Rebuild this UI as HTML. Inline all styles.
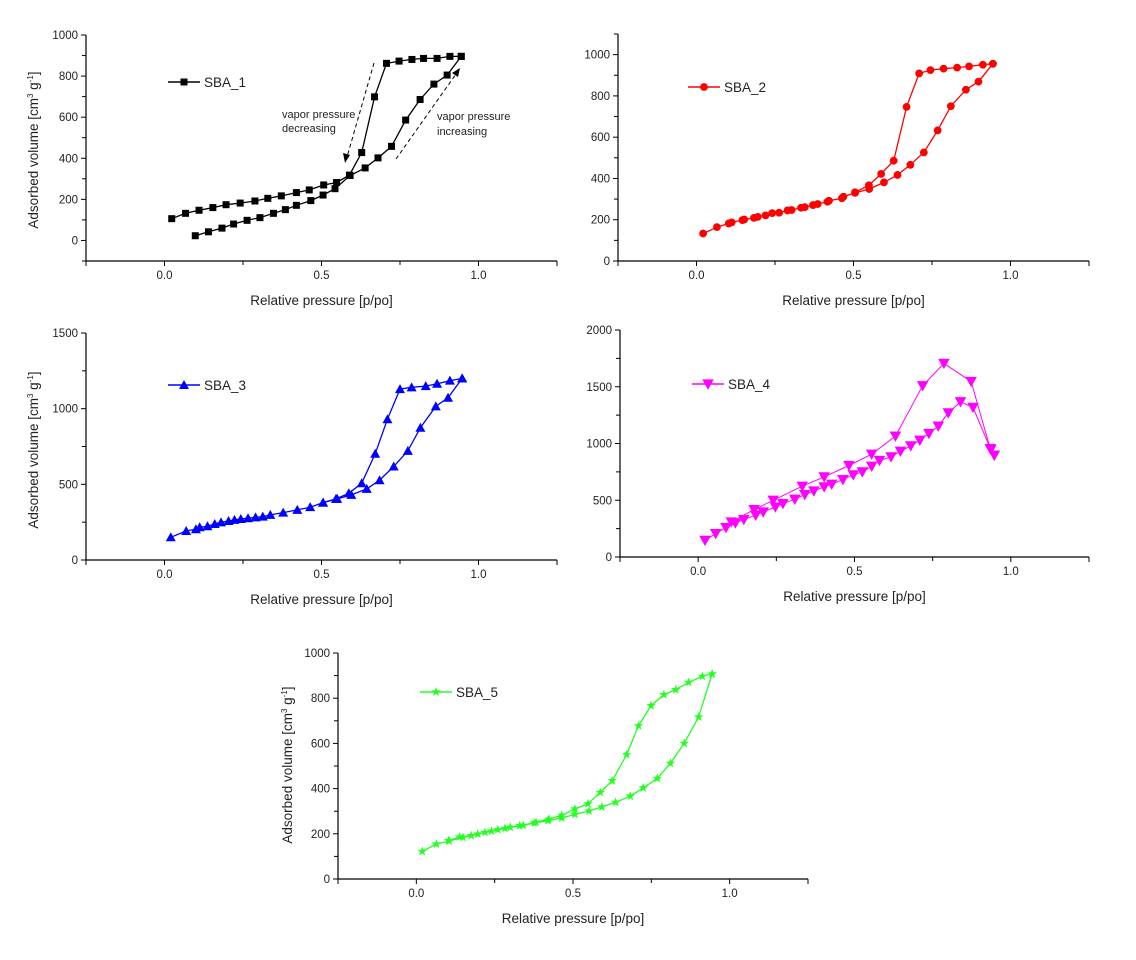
<!DOCTYPE html>
<html><head><meta charset="utf-8"><style>
html,body{margin:0;padding:0;background:#fff;}
svg{display:block;font-family:"Liberation Sans",sans-serif;}
</style></head><body>
<svg id="fig" width="1136" height="960" viewBox="0 0 1136 960" xmlns="http://www.w3.org/2000/svg">
<rect width="1136" height="960" fill="#fff"/>
</svg>
<script>
// ---- data ----
const sba1AdsX=[0.098,0.14,0.183,0.22,0.263,0.304,0.347,0.385,0.42,0.466,0.505,0.543,0.591,0.639,0.68,0.723,0.768,0.814,0.858,0.9,0.945];
const sba1AdsY=[23,42,60,80,98,111,132,150,171,194,221,252,316,353,402,458,586,686,761,805,896];
const sba1DesX=[0.023,0.067,0.11,0.154,0.196,0.241,0.288,0.329,0.372,0.42,0.461,0.507,0.548,0.589,0.628,0.669,0.707,0.747,0.788,0.825,0.868,0.909,0.945];
const sba1DesY=[106,132,147,160,174,182,192,205,217,233,246,270,282,318,428,699,862,873,881,886,886,896,896];

const sba2AdsX=[0.021,0.065,0.103,0.112,0.146,0.152,0.183,0.195,0.22,0.241,0.263,0.29,0.303,0.333,0.345,0.371,0.386,0.417,0.422,0.463,0.468,0.505,0.55,0.597,0.64,0.681,0.724,0.768,0.81,0.858,0.898,0.944];
const sba2AdsY=[133,164,182,187,198,201,209,214,221,232,234,245,247,258,261,271,276,287,292,304,312,330,349,381,417,466,526,633,750,830,869,956];
const sba2DesX=[0.944,0.912,0.868,0.83,0.787,0.745,0.709,0.669,0.628,0.588,0.549,0.505];
const sba2DesY=[956,951,943,937,932,925,909,747,486,422,367,333];

const sba3AdsX=[0.02,0.069,0.1,0.112,0.137,0.16,0.18,0.204,0.223,0.243,0.266,0.29,0.313,0.337,0.378,0.423,0.464,0.505,0.55,0.595,0.644,0.685,0.73,0.775,0.815,0.864,0.903,0.948];
const sba3AdsY=[150,192,203,216,223,238,249,258,265,271,276,282,287,298,313,331,349,379,404,430,470,527,618,721,874,1015,1072,1200];
const sba3DesX=[0.948,0.909,0.868,0.832,0.787,0.75,0.71,0.671,0.628,0.587,0.546,0.505];
const sba3DesY=[1200,1185,1165,1149,1141,1129,930,702,507,441,404,379];

const sba4AdsX=[0.022,0.056,0.089,0.119,0.146,0.184,0.208,0.247,0.271,0.309,0.341,0.37,0.403,0.427,0.463,0.496,0.525,0.555,0.58,0.617,0.647,0.68,0.709,0.738,0.768,0.8,0.839,0.879,0.936,0.947];
const sba4AdsY=[147,206,259,300,330,368,397,441,470,509,550,582,618,641,682,724,750,800,850,882,932,979,1029,1088,1153,1270,1368,1318,947,897];
const sba4DesX=[0.947,0.934,0.873,0.786,0.718,0.631,0.555,0.482,0.403,0.333,0.24,0.179,0.106];
const sba4DesY=[897,956,1547,1706,1509,1065,906,806,706,624,500,418,309];

const sba5AdsX=[0.019,0.064,0.105,0.149,0.196,0.24,0.283,0.33,0.376,0.42,0.464,0.506,0.551,0.592,0.636,0.683,0.724,0.769,0.811,0.855,0.901,0.944];
const sba5AdsY=[122,155,168,184,199,212,224,236,248,258,270,286,301,319,339,367,403,445,512,600,717,907];
const sba5DesX=[0.944,0.913,0.869,0.828,0.79,0.749,0.709,0.671,0.625,0.587,0.548,0.506,0.464,0.423,0.382,0.341,0.3,0.26,0.219,0.175,0.138,0.103];
const sba5DesY=[907,897,870,838,816,767,678,550,435,383,333,310,282,265,251,237,229,218,206,192,186,170];

const xTickLabels=["0.0","0.5","1.0"];
const xTickValues=[0,0.5,1.0];

// ---- drawing ----
const NS="http://www.w3.org/2000/svg";
const svg=document.getElementById('fig');
function mk(tag,attrs,parent){const e=document.createElementNS(NS,tag);for(const k in attrs)e.setAttribute(k,attrs[k]);(parent||svg).appendChild(e);return e;}

function marker(g,shape,cx,cy,color,s){
  s=s||1;let e;
  if(shape==='square'){const h=3.5*s;e=mk('rect',{x:cx-h,y:cy-h,width:2*h,height:2*h,fill:color},g);}
  else if(shape==='circle'){e=mk('circle',{cx:cx,cy:cy,r:3.9*s,fill:color},g);}
  else if(shape==='up'){const a=5*s;e=mk('polygon',{points:`${cx},${cy-a} ${cx-a},${cy+a*0.8} ${cx+a},${cy+a*0.8}`,fill:color},g);}
  else if(shape==='down'){const a=5*s;e=mk('polygon',{points:`${cx},${cy+a} ${cx-a},${cy-a*0.8} ${cx+a},${cy-a*0.8}`,fill:color},g);}
  else {let p=[];for(let i=0;i<10;i++){const r=(i%2?2:5)*s;const a=-Math.PI/2+i*Math.PI/5;p.push((cx+r*Math.cos(a)).toFixed(1)+','+(cy+r*Math.sin(a)).toFixed(1));}
    e=mk('polygon',{points:p.join(' '),fill:color},g);}
  return e;
}

function panel(o){
  const g=mk('g',{});
  
  
  const sx=v=>o.x0+(v-(-0.25))/1.5*(o.x1-o.x0);
  const sy=v=>o.yb-(v-o.ymin)/(o.ymax-o.ymin)*(o.yb-o.yt);
  const ax=mk('path',{d:`M${o.x0},${o.yt} V${o.yb} H${o.x1}`,stroke:'#000','stroke-width':1.2,fill:'none'},g);
  
  
  for(let v=-0.25;v<=1.2501;v+=0.25){
    const major=xTickValues.some(t=>Math.abs(t-v)<1e-6)||Math.abs(v+0.25)<1e-6||Math.abs(v-1.25)<1e-6;
    mk('line',{x1:sx(v),x2:sx(v),y1:o.yb,y2:o.yb+(major?5:4),stroke:'#000','stroke-width':1},g);
  }
  xTickValues.forEach((v,i)=>{const t=mk('text',{x:sx(v),y:o.yb+18,'font-size':11.5,'text-anchor':'middle',fill:'#222'},g);t.textContent=xTickLabels[i];
    
    });
  for(let v=o.ymin;v<=o.ymax+1e-6;v+=o.ystep/2){
    const major=Math.round((v)/o.ystep*2)%2===0;
    mk('line',{x1:o.x0-(major?5:4),x2:o.x0,y1:sy(v),y2:sy(v),stroke:'#000','stroke-width':1},g);
    if(major&&v>=0){const t=mk('text',{x:o.x0-8,y:sy(v)+4,'font-size':11.5,'text-anchor':'end',fill:'#222'},g);t.textContent=String(v);
      
      }
  }
  const xt=mk('text',{x:(o.x0+o.x1)/2,y:o.yb+44,'font-size':13.5,'text-anchor':'middle',fill:'#222'},g);
  xt.textContent='Relative pressure [p/po]';
  
  
  if(o.ytitle){
    const cy=o.ytitleY, cx=o.ytitleX;
    const yt=mk('text',{x:cx,y:cy,'font-size':13.5,'text-anchor':'middle',fill:'#222',transform:`rotate(-90 ${cx} ${cy})`},g);
    
    
    yt.innerHTML='Adsorbed volume [cm<tspan font-size="8" dy="-5">3</tspan><tspan dy="5"> g</tspan><tspan font-size="8" dy="-5">-1</tspan><tspan dy="5">]</tspan>';
  }
  [[o.adsX,o.adsY,'adsorption-branch'],[o.desX,o.desY,'desorption-branch']].forEach(([xs,ys,nm])=>{
    const pts=xs.map((x,i)=>sx(x).toFixed(1)+','+sy(ys[i]).toFixed(1)).join(' ');
    const pl=mk('polyline',{points:pts,fill:'none',stroke:o.color,'stroke-width':o.lw||1.3},g);
    
    
    xs.forEach((x,i)=>{const m=marker(g,o.shape,sx(x),sy(ys[i]),o.color,o.ms);
      
      });
  });
  const lg=mk('g',{},g);
  
  
  mk('line',{x1:o.lx,x2:o.lx+32,y1:o.ly,y2:o.ly,stroke:o.color,'stroke-width':1.5},lg);
  marker(lg,o.shape,o.lx+16,o.ly,o.color,o.ms);
  const lt=mk('text',{x:o.lx+36,y:o.ly+5,'font-size':13.5,fill:'#222'},lg);
  lt.textContent=o.label;
  return {g,sx,sy};
}

panel({name:'sba1-chart',x0:86,x1:557,yt:35,yb:261,ymin:-100,ymax:1000,ystep:200,color:'#000',shape:'square',
  adsX:sba1AdsX,adsY:sba1AdsY,desX:sba1DesX,desY:sba1DesY,lx:168,ly:82,label:'SBA_1',ytitle:true,ytitleX:38,ytitleY:150});
panel({name:'sba2-chart',x0:618,x1:1089,yt:34,yb:261,ymin:0,ymax:1100,ystep:200,color:'#f00',shape:'circle',
  adsX:sba2AdsX,adsY:sba2AdsY,desX:sba2DesX,desY:sba2DesY,lx:688,ly:87,label:'SBA_2'});
panel({name:'sba3-chart',x0:86,x1:557,yt:333,yb:560,ymin:0,ymax:1500,ystep:500,color:'#00f',shape:'up',
  adsX:sba3AdsX,adsY:sba3AdsY,desX:sba3DesX,desY:sba3DesY,lx:168,ly:385,label:'SBA_3',ytitle:true,ytitleX:38,ytitleY:450});
panel({name:'sba4-chart',x0:620,x1:1089,yt:330,yb:557,ymin:0,ymax:2000,ystep:500,color:'#f0f',shape:'down',lw:1,ms:1.15,
  adsX:sba4AdsX,adsY:sba4AdsY,desX:sba4DesX,desY:sba4DesY,lx:692,ly:384,label:'SBA_4'});
panel({name:'sba5-chart',x0:338,x1:808,yt:653,yb:879,ymin:0,ymax:1000,ystep:200,color:'#2f2',shape:'star',
  adsX:sba5AdsX,adsY:sba5AdsY,desX:sba5DesX,desY:sba5DesY,lx:420,ly:692,label:'SBA_5',ytitle:true,ytitleX:292,ytitleY:765});

const ann=mk('g',{});


mk('line',{x1:374,y1:63,x2:347,y2:157,stroke:'#000','stroke-width':1,'stroke-dasharray':'4,3'},ann);
mk('polygon',{points:'345,163 343,153 350,155',fill:'#000'},ann);
mk('line',{x1:396,y1:159,x2:456,y2:74,stroke:'#000','stroke-width':1,'stroke-dasharray':'4,3'},ann);
mk('polygon',{points:'460,68 452,73 458,77',fill:'#000'},ann);
[['vapor pressure',282,118],['decreasing',282,132],['vapor pressure',437,120],['increasing',437,135]].forEach(([s,x,y])=>{
  const t=mk('text',{x:x,y:y,'font-size':11,fill:'#222'},ann);t.textContent=s;
  
  
});
</script>
</body></html>
